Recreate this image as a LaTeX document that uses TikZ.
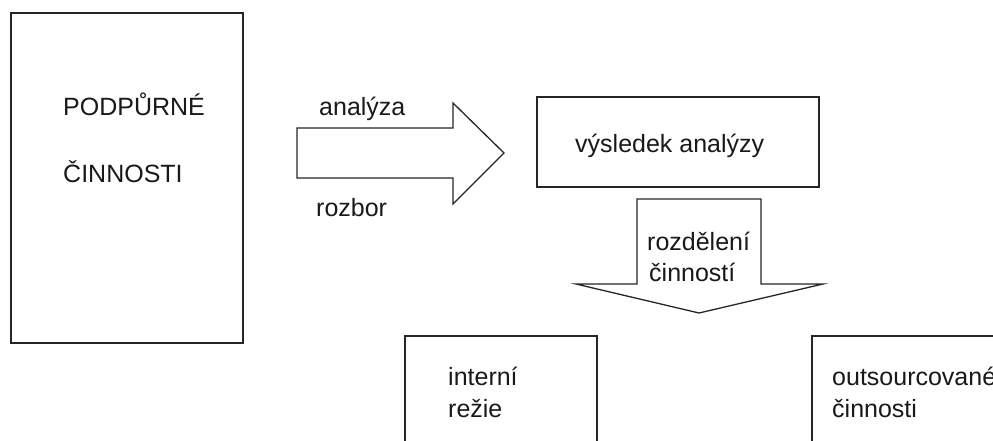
\documentclass[tikz,border=0pt]{standalone}
\usepackage{fontspec}
\setmainfont{Liberation Sans}
\begin{document}
\begin{tikzpicture}[x=1pt,y=-1pt,
  outline/.style={draw=black!85, line width=1.3pt, line join=miter},
  boxshape/.style={outline, fill=white},
  lbl/.style={anchor=base west, inner sep=0pt, text=black!90,
              font=\fontsize{25}{30}\selectfont}]
  % canvas
  \useasboundingbox (0,0) rectangle (993,440);
  \clip (0,0) rectangle (993,440);

  % left box: supporting activities
  \draw[boxshape] (11,13) rectangle (243,343);
  \node[lbl] (podp) at (63,115) {PODPŮRNÉ};
  \node[lbl] (cinn) at (63,182) {ČINNOSTI};

  % block arrow to the right
  \coordinate (rs) at (297,153);
  \coordinate (rt) at (504,153);
  \draw[outline, fill=white]
    (297,128) -- (453,128) -- (453,103) -- (rt) -- (453,204)
    -- (453,178) -- (297,178) -- cycle;
  \node[lbl] (anal) at (319,115) {analýza};
  \node[lbl] (rozb) at (316,216) {rozbor};

  % result box
  \draw[boxshape] (537,97) rectangle (819,187);
  \node[lbl] (vysl) at (575,152) {výsledek analýzy};

  % block arrow downwards
  \coordinate (dt) at (699,313);
  \draw[outline, fill=white]
    (637,199) -- (761,199) -- (761,284) -- (823,284) -- (dt)
    -- (576,284) -- (637,284) -- cycle;
  \node[lbl] (rozd) at (647,250) {rozdělení};
  \node[lbl] (cinst) at (649,281) {činností};

  % bottom boxes (continue below the lower edge)
  \draw[outline] (405,460) -- (405,336) -- (597,336) -- (597,460);
  \node[lbl] (intr) at (448,385) {interní};
  \node[lbl] (rez) at (448,417) {režie};

  \draw[outline] (812,460) -- (812,336) -- (1010,336);
  \node[lbl] (outs) at (832,385) {outsourcované};
  \node[lbl] (cinn2) at (832,417) {činnosti};
\end{tikzpicture}
\end{document}
